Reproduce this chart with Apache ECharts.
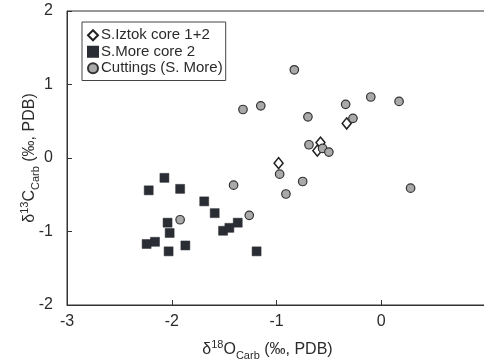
<!DOCTYPE html>
<html>
<head>
<meta charset="utf-8">
<script src="https://cdn.jsdelivr.net/npm/echarts@6/dist/echarts.min.js"></script>
<style>
  html, body { margin: 0; padding: 0; background: #fff; }
  #chart { width: 484px; height: 360px; }
</style>
</head>
<body>
<div id="chart"></div>
<script>
// δ18O / δ13C pairs (‰, PDB) for each sample group
const iztokCore = [
  [-0.98, -0.07], [-0.58, 0.21], [-0.61, 0.10], [-0.33, 0.47]
];
const moreCore2 = [
  [-2.07, -0.27], [-2.22, -0.44], [-1.92, -0.42], [-1.69, -0.59], [-1.59, -0.75],
  [-2.04, -0.88], [-2.02, -1.02], [-2.24, -1.17], [-2.16, -1.14], [-2.03, -1.27],
  [-1.87, -1.19], [-1.51, -0.99], [-1.45, -0.95], [-1.37, -0.88], [-1.19, -1.27]
];
const cuttings = [
  [-0.83, 1.20], [-1.32, 0.66], [-1.15, 0.71], [-0.70, 0.56], [-0.34, 0.73],
  [-0.10, 0.83], [0.17, 0.77], [-0.27, 0.54], [-0.69, 0.18], [-0.56, 0.13],
  [-0.50, 0.08], [-0.97, -0.22], [-0.75, -0.32], [-0.91, -0.49], [-1.41, -0.37],
  [0.28, -0.41], [-1.92, -0.84], [-1.26, -0.78]
];
const seriesNames = ['S.Iztok core 1+2', 'S.More core 2', 'Cuttings (S. More)'];
const xTicks = { min: -3, max: 1, step: 1 };
const yTicks = { min: -2, max: 2, step: 1 };

const FONT = '"Liberation Sans", Arial, sans-serif';
const INK = '#2b2b2b';

const nameRich = {
  m: { fontSize: 16, fontFamily: FONT, color: INK, lineHeight: 22 },
  sup: { fontSize: 11, fontFamily: FONT, color: INK, verticalAlign: 'top', lineHeight: 12 },
  sub: { fontSize: 11, fontFamily: FONT, color: INK, verticalAlign: 'bottom', lineHeight: 12 }
};

const chart = echarts.init(document.getElementById('chart'), null, { renderer: 'canvas' });
chart.setOption({
  animation: false,
  backgroundColor: '#fff',
  grid: {
    left: 67, top: 11, right: -2, bottom: 55,
    outerBoundsMode: 'none',
    containLabel: false,
    show: true, borderColor: '#333', borderWidth: 1, backgroundColor: 'transparent'
  },
  legend: {
    orient: 'vertical',
    left: 82, top: 22,
    padding: [5, 3, 4, 5],
    itemGap: 0,
    itemWidth: 10, itemHeight: 10,
    borderColor: '#444', borderWidth: 1,
    backgroundColor: '#fff',
    textStyle: { fontFamily: FONT, fontSize: 15, color: INK, lineHeight: 16.5, padding: [0, 0, 0, -2] },
    data: seriesNames
  },
  xAxis: {
    type: 'value',
    min: xTicks.min, max: xTicks.max, interval: xTicks.step,
    axisLine: { show: true, onZero: false, lineStyle: { color: '#333' } },
    axisTick: { show: true, inside: true, length: 5, lineStyle: { color: '#333' } },
    axisLabel: { fontFamily: FONT, fontSize: 16, color: INK, margin: 9,
      formatter: v => v === xTicks.max ? '' : String(v) },
    splitLine: { show: false },
    name: '{m|δ}{sup|18}{m|O}{sub|Carb}{m| (‰, PDB)}',
    nameLocation: 'middle',
    nameGap: 34,
    nameMoveOverlap: false,
    nameTextStyle: { rich: nameRich, padding: [0, 18, 0, 0] }
  },
  yAxis: {
    type: 'value',
    min: yTicks.min, max: yTicks.max, interval: yTicks.step,
    axisLine: { show: true, onZero: false, lineStyle: { color: '#333' } },
    axisTick: { show: true, inside: true, length: 5, lineStyle: { color: '#333' } },
    axisLabel: { fontFamily: FONT, fontSize: 16, color: INK, margin: 14 },
    splitLine: { show: false },
    name: '{m|δ}{sup|13}{m|C}{sub|Carb}{m| (‰, PDB)}',
    nameLocation: 'middle',
    nameRotate: 90,
    nameGap: 26,
    nameMoveOverlap: false,
    nameTextStyle: { rich: nameRich }
  },
  series: [
    {
      name: seriesNames[0], type: 'scatter', data: iztokCore,
      symbol: 'diamond', symbolSize: [9, 11],
      itemStyle: { color: '#fff', borderColor: '#222', borderWidth: 1.5, opacity: 1 },
      z: 2
    },
    {
      name: seriesNames[1], type: 'scatter', data: moreCore2,
      symbol: 'rect', symbolSize: 9,
      itemStyle: { color: '#2a2d33', borderColor: '#2a2d33', borderWidth: 0.5, opacity: 1 },
      z: 3
    },
    {
      name: seriesNames[2], type: 'scatter', data: cuttings,
      symbol: 'circle', symbolSize: 8.5,
      itemStyle: { color: '#a9a9a9', borderColor: '#333', borderWidth: 1.2, opacity: 1 },
      z: 4
    }
  ]
});
</script>
</body>
</html>
